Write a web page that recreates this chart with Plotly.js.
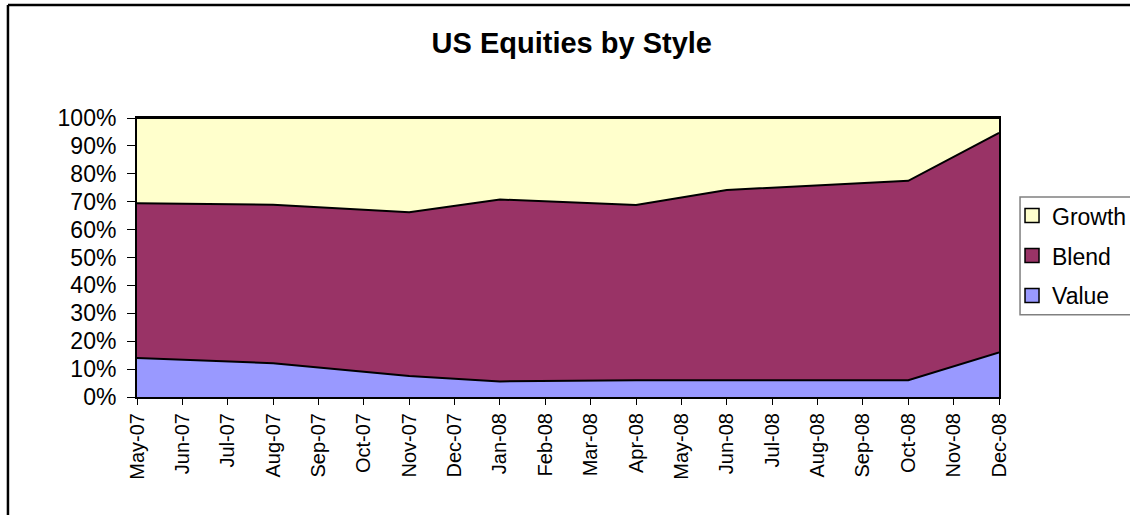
<!DOCTYPE html>
<html>
<head>
<meta charset="utf-8">
<script src="https://cdn.plot.ly/plotly-3.0.1.min.js"></script>
<style>
  html, body { margin: 0; padding: 0; background: #ffffff; }
  #chart { width: 1130px; height: 515px; }
</style>
</head>
<body>
<div id="chart"></div>
<script>
// Axis month labels (tick labels)
var months = ["May-07","Jun-07","Jul-07","Aug-07","Sep-07","Oct-07","Nov-07","Dec-07",
              "Jan-08","Feb-08","Mar-08","Apr-08","May-08","Jun-08","Jul-08","Aug-08",
              "Sep-08","Oct-08","Nov-08","Dec-08"];
// Months with data points (vertices of the areas)
var dataMonths = ["May-07","Aug-07","Nov-07","Jan-08","Apr-08","Jun-08","Oct-08","Dec-08"];
// Series values, percent of total
var valueSeries  = [14.0, 12.1,  7.5,  5.6,  6.0,  6.0,  6.0, 16.0];
var blendSeries  = [55.4, 56.8, 58.7, 65.2, 62.8, 68.2, 71.5, 78.7];
var growthSeries = [30.6, 31.1, 33.8, 29.2, 31.2, 25.8, 22.5,  5.3];

var seriesNames  = ["Value", "Blend", "Growth"];
var seriesColors = ["#9999FF", "#993366", "#FFFFCC"];
var seriesData   = [valueSeries, blendSeries, growthSeries];

var xIdx = dataMonths.map(function (m) { return months.indexOf(m); });
var tickIdx = months.map(function (m, i) { return i; });

var FONT = "Liberation Sans, Arial, Helvetica, sans-serif";

var traces = [];
seriesData.forEach(function (ys, k) {
  traces.push({
    type: "scatter",
    mode: "lines",
    x: xIdx,
    y: ys,
    name: seriesNames[k],
    stackgroup: "one",
    fillcolor: seriesColors[k],
    line: { color: "#000000", width: 2 },
    showlegend: false,
    hoverinfo: "x+y+name"
  });
});
// Legend entries with square swatches (Growth on top)
seriesData.forEach(function (ys, k) {
  traces.push({
    type: "scatter",
    mode: "markers",
    x: [null],
    y: [null],
    name: seriesNames[k],
    legendgroup: "g" + k,
    legendrank: 1000 - k,
    marker: { symbol: "square", size: 14, color: seriesColors[k],
              line: { color: "#000000", width: 1.5 } },
    showlegend: true
  });
});

var layout = {
  width: 1130,
  height: 515,
  paper_bgcolor: "#ffffff",
  plot_bgcolor: "#ffffff",
  margin: { l: 137, r: 131, t: 118, b: 118, autoexpand: false },
  font: { family: FONT, color: "#000000", size: 22 },
  title: {
    text: "<b>US Equities by Style</b>",
    font: { family: FONT, size: 29, color: "#000000" },
    x: 0.506, xref: "container", xanchor: "center",
    y: 0.916, yref: "container", yanchor: "middle"
  },
  xaxis: {
    range: [0, months.length - 1],
    tickmode: "array",
    tickvals: tickIdx,
    ticktext: months,
    tickangle: -90,
    ticks: "outside",
    ticklen: 6,
    tickwidth: 1,
    tickcolor: "#000000",
    showline: true,
    linecolor: "#000000",
    linewidth: 2,
    mirror: true,
    showgrid: false,
    zeroline: false,
    tickfont: { family: FONT, size: 20, color: "#000000" },
    fixedrange: true
  },
  yaxis: {
    range: [0, 100],
    tickmode: "linear",
    tick0: 0,
    dtick: 10,
    ticksuffix: "%",
    ticks: "outside",
    ticklen: 8,
    tickwidth: 1,
    tickcolor: "#000000",
    ticklabelstandoff: 6,
    showline: true,
    linecolor: "#000000",
    linewidth: 2,
    mirror: true,
    showgrid: false,
    zeroline: false,
    tickfont: { family: FONT, size: 23, color: "#000000" },
    fixedrange: true
  },
  showlegend: true,
  legend: {
    x: 1.0151, y: 0.727, xanchor: "left", yanchor: "top",
    xref: "paper", yref: "paper",
    bgcolor: "rgba(0,0,0,0)",
    borderwidth: 0,
    traceorder: "grouped",
    tracegroupgap: 7,
    itemwidth: 30,
    font: { family: FONT, size: 23, color: "#000000" }
  },
  shapes: [
    // chart-area border (left and top)
    { type: "line", xref: "paper", yref: "paper",
      x0: -0.1497, x1: -0.1497, y0: -0.6, y1: 1.405,
      line: { color: "#000000", width: 2.5 } },
    { type: "line", xref: "paper", yref: "paper",
      x0: -0.1497, x1: 1.3, y0: 1.405, y1: 1.405,
      line: { color: "#000000", width: 2.5 } },
    // legend frame
    { type: "rect", xref: "paper", yref: "paper",
      x0: 1.0244, x1: 1.2, y0: 0.2946, y1: 0.7168,
      line: { color: "#808080", width: 1.5 }, fillcolor: "rgba(0,0,0,0)", layer: "above" }
  ]
};

Plotly.newPlot("chart", traces, layout, { displayModeBar: false, staticPlot: true });
</script>
</body>
</html>
